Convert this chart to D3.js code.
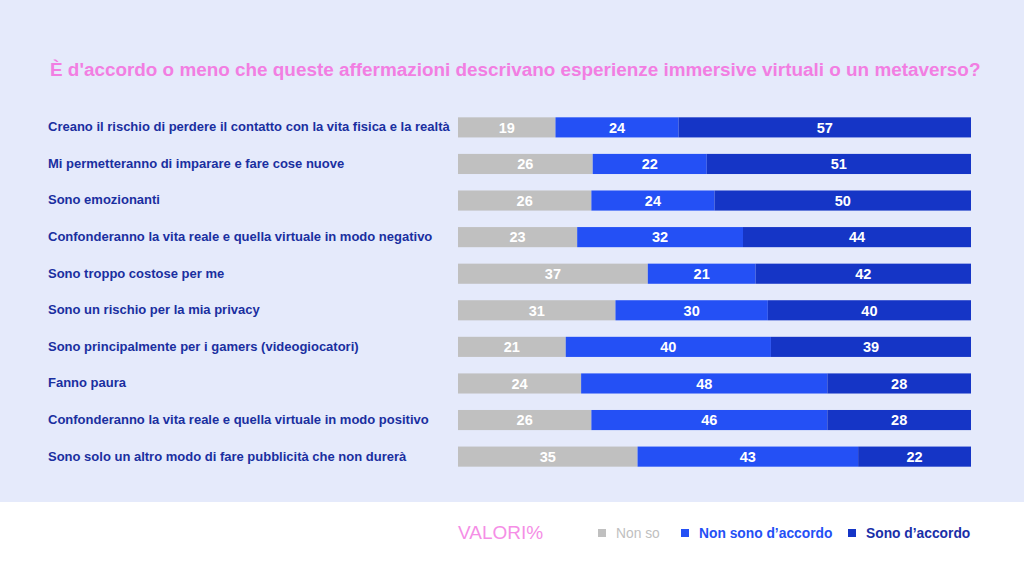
<!DOCTYPE html>
<html>
<head>
<meta charset="utf-8">
<script src="https://cdn.jsdelivr.net/npm/d3@7"></script>
<style>
  body { margin: 0; background: #fff; }
  svg { display: block; font-family: "Liberation Sans", Arial, sans-serif; }
</style>
</head>
<body>
<svg width="1024" height="585"></svg>
<script>
// data
const statements = [
    "Creano il rischio di perdere il contatto con la vita fisica e la realtà",
    "Mi permetteranno di imparare e fare cose nuove",
    "Sono emozionanti",
    "Confonderanno la vita reale e quella virtuale in modo negativo",
    "Sono troppo costose per me",
    "Sono un rischio per la mia privacy",
    "Sono principalmente per i gamers (videogiocatori)",
    "Fanno paura",
    "Confonderanno la vita reale e quella virtuale in modo positivo",
    "Sono solo un altro modo di fare pubblicità che non durerà"
];
const nonSo = [19, 26, 26, 23, 37, 31, 21, 24, 26, 35];
const nonAccordo = [24, 22, 24, 32, 21, 30, 40, 48, 46, 43];
const accordo = [57, 51, 50, 44, 42, 40, 39, 28, 28, 22];
const seriesNames = ["Non so", "Non sono d\u2019accordo", "Sono d\u2019accordo"];

const title = "È d'accordo o meno che queste affermazioni descrivano esperienze immersive virtuali o un metaverso?";

const colors = ["#c0c0c0", "#2450f5", "#1535c6"];
const legendText = ["#c0c0c0", "#2450f5", "#1a2fa8"];

const svg = d3.select("svg"),
    width = +svg.attr("width"),
    height = +svg.attr("height");

// panels
svg.append("rect").attr("width", width).attr("height", 502).attr("fill", "#e5eafb");
svg.append("rect").attr("y", 502).attr("width", width).attr("height", height - 502).attr("fill", "#fff");

svg.append("text")
    .attr("x", 50).attr("y", 76)
    .attr("fill", "#f27ee2")
    .attr("font-size", 18.9)
    .attr("font-weight", "bold")
    .text(title);

const rows = statements.map((s, i) => ({
    label: s,
    [seriesNames[0]]: nonSo[i],
    [seriesNames[1]]: nonAccordo[i],
    [seriesNames[2]]: accordo[i]
}));

// each row fills the full width (some rows sum to 99 or 101)
const stacked = d3.stack()
    .keys(seriesNames)
    .offset(d3.stackOffsetExpand)(rows);

const x = d3.scaleLinear().domain([0, 1]).range([458, 971]);
const y = d3.scaleBand()
    .domain(statements)
    .range([110, 474])
    .paddingInner(0.45)
    .paddingOuter(0.2);

// labels
svg.append("g")
    .selectAll("text")
    .data(statements)
    .join("text")
    .attr("x", 48)
    .attr("y", d => y(d) + y.bandwidth() / 2)
    .attr("dy", "0.3em")
    .attr("fill", "#1a2fa0")
    .attr("font-size", 13)
    .attr("font-weight", "bold")
    .text(d => d);

// bars
const layer = svg.append("g")
    .selectAll("g")
    .data(stacked)
    .join("g")
    .attr("fill", (d, i) => colors[i]);

layer.selectAll("rect")
    .data(d => d)
    .join("rect")
    .attr("x", d => x(d[0]))
    .attr("y", d => y(d.data.label))
    .attr("width", d => x(d[1]) - x(d[0]))
    .attr("height", y.bandwidth());

layer.selectAll("text")
    .data(d => d.map(v => ({ v, key: d.key })))
    .join("text")
    .attr("x", d => (x(d.v[0]) + x(d.v[1])) / 2)
    .attr("y", d => y(d.v.data.label) + y.bandwidth() / 2)
    .attr("dy", "0.36em")
    .attr("text-anchor", "middle")
    .attr("fill", "#fff")
    .attr("font-size", 14.5)
    .attr("font-weight", "bold")
    .text(d => d.v.data[d.key]);

// legend
svg.append("text")
    .attr("x", 458).attr("y", 539)
    .attr("fill", "#f58ee6")
    .attr("font-size", 19)
    .text("VALORI%");

const legendX = [598, 681, 848];
const legend = svg.append("g")
    .selectAll("g")
    .data(seriesNames)
    .join("g")
    .attr("transform", (d, i) => `translate(${legendX[i]},533)`);

legend.append("rect")
    .attr("y", -4).attr("width", 8).attr("height", 8)
    .attr("fill", (d, i) => colors[i]);

legend.append("text")
    .attr("x", 18)
    .attr("dy", "0.36em")
    .attr("font-size", 13.8)
    .attr("font-weight", (d, i) => i === 0 ? "normal" : "bold")
    .attr("fill", (d, i) => legendText[i])
    .text(d => d);
</script>
</body>
</html>
